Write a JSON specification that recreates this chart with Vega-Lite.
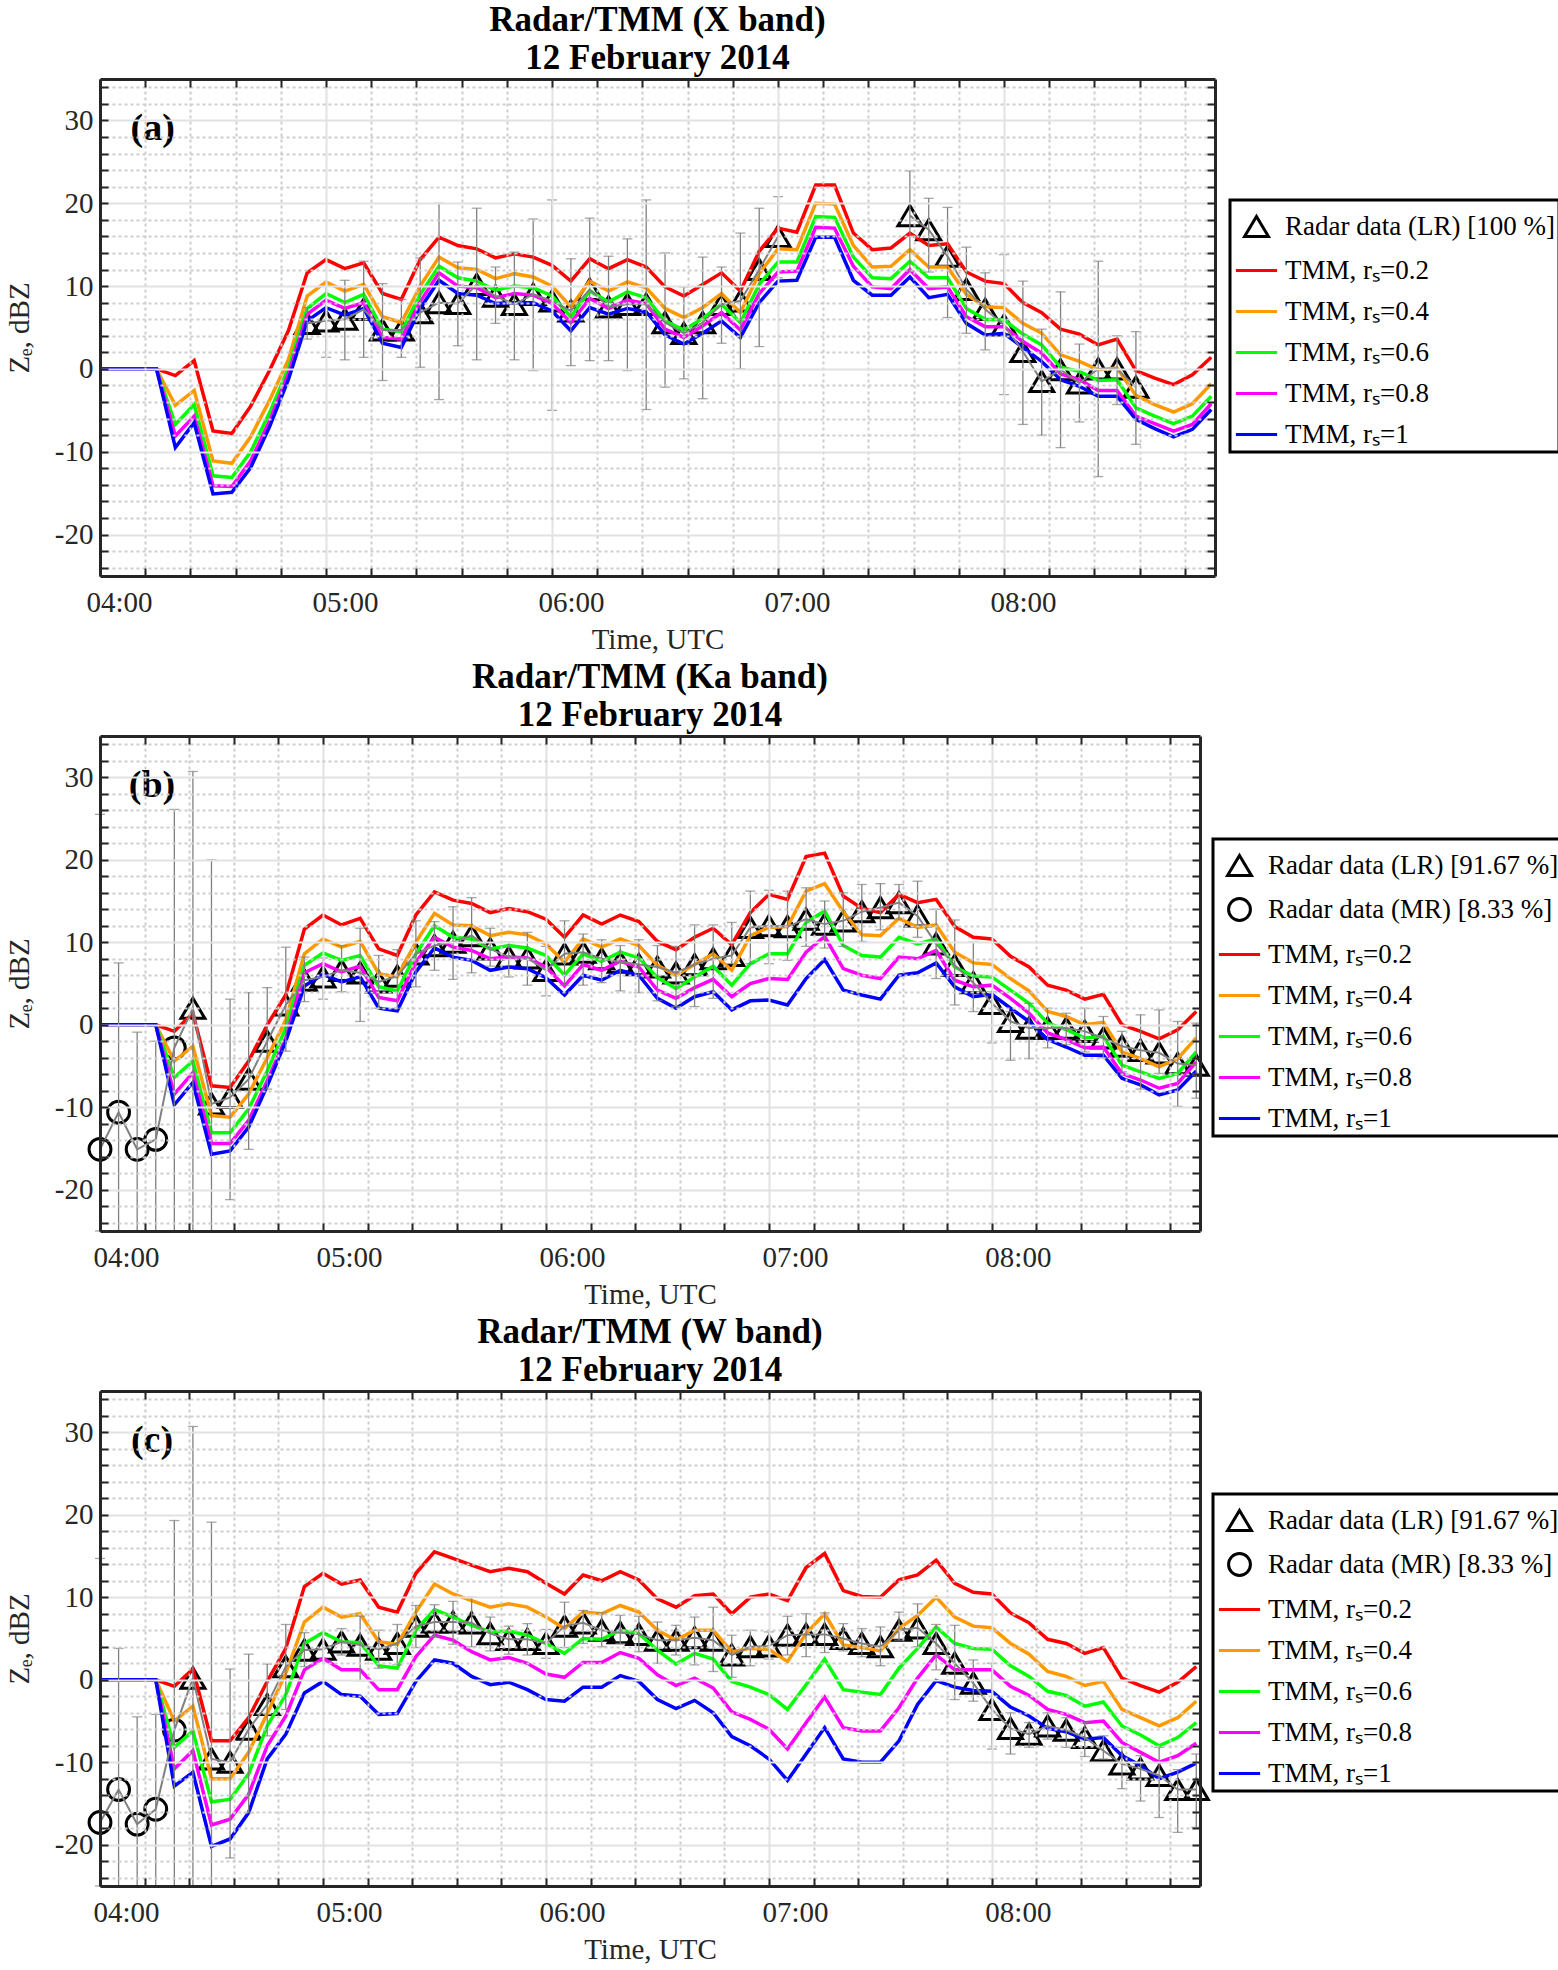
{
  "$schema": "https://vega.github.io/schema/vega-lite/v6.json",
  "background": "white",
  "padding": {"left": 5, "top": 3, "right": 0, "bottom": 0},
  "spacing": 6,
  "config": {
    "font": "Liberation Serif",
    "view": {"stroke": null},
    "axis": {
      "labelFont": "Liberation Serif", "titleFont": "Liberation Serif",
      "labelFontSize": 29, "titleFontSize": 29, "titleFontWeight": "normal",
      "labelColor": "#262626", "titleColor": "#262626",
      "domainColor": "#262626", "domainWidth": 3,
      "tickColor": "#262626", "tickWidth": 2,
      "labelFlush": false, "labelOverlap": false, "labelBound": false
    },
    "legend": {"strokeWidth": 3}
  },
  "resolve": {
    "scale": {"x": "independent", "y": "independent", "color": "independent", "shape": "independent", "strokeWidth": "independent"},
    "legend": {"color": "independent", "shape": "independent"}
  },
  "datasets": {
    "tmm_a": [
      {"t":0,"r02":0,"r04":0,"r06":0,"r08":0,"r1":0},
      {"t":5,"r02":0,"r04":0,"r06":0,"r08":0,"r1":0},
      {"t":10,"r02":0,"r04":0,"r06":0,"r08":0,"r1":0},
      {"t":15,"r02":0,"r04":0,"r06":0,"r08":0,"r1":0},
      {"t":20,"r02":-0.8,"r04":-4.4,"r06":-6.7,"r08":-8.1,"r1":-9.5},
      {"t":25,"r02":1.0,"r04":-2.6,"r06":-4.3,"r08":-5.7,"r1":-6.5},
      {"t":30,"r02":-7.5,"r04":-11.1,"r06":-12.9,"r08":-14.1,"r1":-15.1},
      {"t":35,"r02":-7.8,"r04":-11.4,"r06":-13.1,"r08":-14.2,"r1":-14.9},
      {"t":40,"r02":-4.5,"r04":-8.2,"r06":-10.0,"r08":-11.1,"r1":-11.9},
      {"t":45,"r02":-0.2,"r04":-3.8,"r06":-5.3,"r08":-6.3,"r1":-7.0},
      {"t":50,"r02":4.6,"r04":1.1,"r06":0.1,"r08":-0.6,"r1":-1.3},
      {"t":55,"r02":11.6,"r04":8.8,"r06":7.3,"r08":6.6,"r1":5.8},
      {"t":60,"r02":13.2,"r04":10.5,"r06":9.1,"r08":8.3,"r1":7.4},
      {"t":65,"r02":12.1,"r04":9.4,"r06":8.0,"r08":7.3,"r1":6.5},
      {"t":70,"r02":12.8,"r04":10.2,"r06":9.0,"r08":8.0,"r1":7.3},
      {"t":75,"r02":9.1,"r04":6.3,"r06":4.8,"r08":3.8,"r1":3.1},
      {"t":80,"r02":8.4,"r04":5.6,"r06":4.5,"r08":3.6,"r1":2.6},
      {"t":85,"r02":13.2,"r04":10.0,"r06":9.0,"r08":8.1,"r1":7.3},
      {"t":90,"r02":15.9,"r04":13.5,"r06":12.4,"r08":11.6,"r1":10.7},
      {"t":95,"r02":14.9,"r04":12.2,"r06":11.0,"r08":10.0,"r1":9.1},
      {"t":100,"r02":14.5,"r04":12.0,"r06":10.6,"r08":9.8,"r1":8.9},
      {"t":105,"r02":13.4,"r04":10.9,"r06":9.5,"r08":8.6,"r1":7.9},
      {"t":110,"r02":13.9,"r04":11.5,"r06":10.0,"r08":9.1,"r1":8.0},
      {"t":115,"r02":13.5,"r04":11.1,"r06":9.8,"r08":8.9,"r1":8.0},
      {"t":120,"r02":12.5,"r04":10.0,"r06":8.8,"r08":7.9,"r1":7.0},
      {"t":125,"r02":10.6,"r04":7.5,"r06":6.3,"r08":5.6,"r1":4.6},
      {"t":130,"r02":13.3,"r04":10.6,"r06":9.4,"r08":8.5,"r1":7.4},
      {"t":135,"r02":12.1,"r04":9.4,"r06":8.1,"r08":7.3,"r1":6.6},
      {"t":140,"r02":13.2,"r04":10.5,"r06":9.3,"r08":8.3,"r1":7.3},
      {"t":145,"r02":12.3,"r04":9.8,"r06":8.6,"r08":7.9,"r1":6.9},
      {"t":150,"r02":9.9,"r04":7.3,"r06":5.8,"r08":4.8,"r1":4.1},
      {"t":155,"r02":8.8,"r04":6.2,"r06":4.7,"r08":3.8,"r1":3.0},
      {"t":160,"r02":10.2,"r04":7.4,"r06":6.1,"r08":5.2,"r1":4.3},
      {"t":165,"r02":11.6,"r04":9.1,"r06":7.8,"r08":6.8,"r1":5.8},
      {"t":170,"r02":9.4,"r04":6.8,"r06":5.6,"r08":4.7,"r1":3.8},
      {"t":175,"r02":14.2,"r04":11.5,"r06":10.2,"r08":9.1,"r1":8.0},
      {"t":180,"r02":17.0,"r04":14.5,"r06":12.9,"r08":11.7,"r1":10.6},
      {"t":185,"r02":16.5,"r04":14.4,"r06":12.9,"r08":11.8,"r1":10.7},
      {"t":190,"r02":22.2,"r04":20.0,"r06":18.4,"r08":17.1,"r1":15.9},
      {"t":195,"r02":22.2,"r04":19.9,"r06":18.3,"r08":17.0,"r1":15.9},
      {"t":200,"r02":16.4,"r04":14.9,"r06":13.5,"r08":12.4,"r1":10.7},
      {"t":205,"r02":14.4,"r04":12.3,"r06":11.0,"r08":9.9,"r1":8.9},
      {"t":210,"r02":14.6,"r04":12.4,"r06":10.9,"r08":9.7,"r1":8.9},
      {"t":215,"r02":16.4,"r04":14.4,"r06":13.0,"r08":12.0,"r1":11.1},
      {"t":220,"r02":14.9,"r04":12.3,"r06":11.0,"r08":9.7,"r1":8.6},
      {"t":225,"r02":15.1,"r04":12.3,"r06":11.0,"r08":9.9,"r1":9.0},
      {"t":230,"r02":11.7,"r04":9.0,"r06":7.3,"r08":6.3,"r1":5.5},
      {"t":235,"r02":10.6,"r04":7.5,"r06":6.0,"r08":5.1,"r1":4.1},
      {"t":240,"r02":10.3,"r04":7.4,"r06":5.9,"r08":5.1,"r1":4.3},
      {"t":245,"r02":8.0,"r04":5.5,"r06":4.2,"r08":3.3,"r1":2.6},
      {"t":250,"r02":6.8,"r04":4.3,"r06":2.9,"r08":1.9,"r1":0.9},
      {"t":255,"r02":4.8,"r04":1.7,"r06":0.2,"r08":-0.6,"r1":-1.3},
      {"t":260,"r02":4.2,"r04":0.9,"r06":-0.3,"r08":-1.3,"r1":-2.1},
      {"t":265,"r02":2.9,"r04":-0.1,"r06":-1.4,"r08":-2.6,"r1":-3.3},
      {"t":270,"r02":3.6,"r04":0.1,"r06":-1.3,"r08":-2.6,"r1":-3.3},
      {"t":275,"r02":-0.2,"r04":-3.2,"r06":-4.7,"r08":-5.7,"r1":-6.1},
      {"t":280,"r02":-1.1,"r04":-4.3,"r06":-5.7,"r08":-6.6,"r1":-7.2},
      {"t":285,"r02":-1.9,"r04":-5.2,"r06":-6.6,"r08":-7.5,"r1":-8.2},
      {"t":290,"r02":-0.7,"r04":-4.2,"r06":-5.7,"r08":-6.7,"r1":-7.3},
      {"t":295,"r02":1.4,"r04":-1.8,"r06":-3.3,"r08":-4.2,"r1":-4.9}
    ],
    "radar_a": [
      {"t":55,"s":"LR","z":5.5,"lo":3.6,"hi":7.4,"g":1},
      {"t":60,"s":"LR","z":5.8,"lo":1.4,"hi":10.0,"g":1},
      {"t":65,"s":"LR","z":6.0,"lo":1.1,"hi":10.7,"g":1},
      {"t":70,"s":"LR","z":7.2,"lo":1.4,"hi":13.0,"g":1},
      {"t":75,"s":"LR","z":4.7,"lo":-1.4,"hi":10.3,"g":1},
      {"t":80,"s":"LR","z":4.7,"lo":1.4,"hi":8.4,"g":1},
      {"t":85,"s":"LR","z":6.8,"lo":0.2,"hi":13.4,"g":1},
      {"t":90,"s":"LR","z":8.0,"lo":-3.7,"hi":20.0,"g":1},
      {"t":95,"s":"LR","z":7.9,"lo":2.8,"hi":12.9,"g":1},
      {"t":100,"s":"LR","z":10.2,"lo":1.1,"hi":19.4,"g":1},
      {"t":105,"s":"LR","z":8.8,"lo":5.5,"hi":12.3,"g":1},
      {"t":110,"s":"LR","z":7.8,"lo":1.1,"hi":14.1,"g":1},
      {"t":115,"s":"LR","z":9.0,"lo":-0.2,"hi":18.1,"g":1},
      {"t":120,"s":"LR","z":8.2,"lo":-5.0,"hi":20.4,"g":1},
      {"t":125,"s":"LR","z":7.0,"lo":0.4,"hi":13.3,"g":1},
      {"t":130,"s":"LR","z":9.6,"lo":1.0,"hi":18.2,"g":1},
      {"t":135,"s":"LR","z":7.5,"lo":1.0,"hi":13.6,"g":1},
      {"t":140,"s":"LR","z":7.8,"lo":-0.2,"hi":15.7,"g":1},
      {"t":145,"s":"LR","z":7.8,"lo":-4.9,"hi":20.4,"g":1},
      {"t":150,"s":"LR","z":5.6,"lo":-2.2,"hi":14.0,"g":1},
      {"t":155,"s":"LR","z":4.3,"lo":-1.2,"hi":9.9,"g":1},
      {"t":160,"s":"LR","z":5.6,"lo":-3.6,"hi":13.5,"g":1},
      {"t":165,"s":"LR","z":7.8,"lo":3.1,"hi":12.3,"g":1},
      {"t":170,"s":"LR","z":8.2,"lo":0.0,"hi":16.4,"g":1},
      {"t":175,"s":"LR","z":12.0,"lo":2.7,"hi":19.4,"g":1},
      {"t":180,"s":"LR","z":16.0,"lo":11.0,"hi":20.8,"g":1},
      {"t":215,"s":"LR","z":18.5,"lo":11.8,"hi":23.9,"g":2},
      {"t":220,"s":"LR","z":16.8,"lo":11.7,"hi":20.6,"g":2},
      {"t":225,"s":"LR","z":13.6,"lo":6.2,"hi":19.5,"g":2},
      {"t":230,"s":"LR","z":9.6,"lo":4.3,"hi":14.7,"g":2},
      {"t":235,"s":"LR","z":7.2,"lo":2.3,"hi":11.6,"g":2},
      {"t":240,"s":"LR","z":5.3,"lo":-3.1,"hi":13.8,"g":2},
      {"t":245,"s":"LR","z":2.1,"lo":-6.7,"hi":10.6,"g":2},
      {"t":250,"s":"LR","z":-1.5,"lo":-8.0,"hi":4.8,"g":2},
      {"t":255,"s":"LR","z":-0.1,"lo":-9.5,"hi":9.3,"g":2},
      {"t":260,"s":"LR","z":-1.7,"lo":-6.4,"hi":3.0,"g":2},
      {"t":265,"s":"LR","z":0.0,"lo":-13.0,"hi":13.0,"g":2},
      {"t":270,"s":"LR","z":0.0,"lo":-4.3,"hi":4.0,"g":2},
      {"t":275,"s":"LR","z":-2.2,"lo":-9.1,"hi":4.5,"g":2}
    ],
    "tmm_b": [
      {"t":0,"r02":0,"r04":0,"r06":0,"r08":0,"r1":0},
      {"t":5,"r02":0,"r04":0,"r06":0,"r08":0,"r1":0},
      {"t":10,"r02":0,"r04":0,"r06":0,"r08":0,"r1":0},
      {"t":15,"r02":0,"r04":0,"r06":0,"r08":0,"r1":0},
      {"t":20,"r02":-0.8,"r04":-4.4,"r06":-6.4,"r08":-8.4,"r1":-9.7},
      {"t":25,"r02":1.4,"r04":-2.6,"r06":-4.4,"r08":-5.8,"r1":-7.0},
      {"t":30,"r02":-7.4,"r04":-11.0,"r06":-13.1,"r08":-14.4,"r1":-15.7},
      {"t":35,"r02":-7.6,"r04":-11.2,"r06":-13.1,"r08":-14.4,"r1":-15.3},
      {"t":40,"r02":-4.4,"r04":-8.4,"r06":-10.2,"r08":-11.6,"r1":-12.4},
      {"t":45,"r02":0.0,"r04":-4.0,"r06":-5.6,"r08":-6.8,"r1":-7.4},
      {"t":50,"r02":3.6,"r04":0.6,"r06":-0.4,"r08":-1.6,"r1":-2.0},
      {"t":55,"r02":11.6,"r04":8.6,"r06":7.2,"r08":6.3,"r1":4.7},
      {"t":60,"r02":13.3,"r04":10.4,"r06":8.7,"r08":7.4,"r1":6.1},
      {"t":65,"r02":12.1,"r04":9.4,"r06":7.8,"r08":6.4,"r1":5.2},
      {"t":70,"r02":12.9,"r04":10.1,"r06":8.4,"r08":7.1,"r1":5.8},
      {"t":75,"r02":9.2,"r04":6.2,"r06":4.6,"r08":3.3,"r1":2.0},
      {"t":80,"r02":8.4,"r04":5.8,"r06":4.1,"r08":2.9,"r1":1.7},
      {"t":85,"r02":13.3,"r04":10.0,"r06":8.6,"r08":7.6,"r1":6.4},
      {"t":90,"r02":16.1,"r04":13.5,"r06":12.0,"r08":10.6,"r1":9.3},
      {"t":95,"r02":15.1,"r04":12.1,"r06":10.6,"r08":9.4,"r1":8.2},
      {"t":100,"r02":14.7,"r04":12.0,"r06":10.4,"r08":9.0,"r1":7.8},
      {"t":105,"r02":13.6,"r04":10.8,"r06":9.2,"r08":8.0,"r1":6.6},
      {"t":110,"r02":14.1,"r04":11.2,"r06":9.6,"r08":8.2,"r1":7.0},
      {"t":115,"r02":13.7,"r04":10.9,"r06":9.3,"r08":8.1,"r1":6.8},
      {"t":120,"r02":12.8,"r04":9.8,"r06":8.4,"r08":7.0,"r1":5.7},
      {"t":125,"r02":10.6,"r04":7.6,"r06":6.0,"r08":4.7,"r1":3.6},
      {"t":130,"r02":13.3,"r04":10.4,"r06":8.6,"r08":7.3,"r1":6.0},
      {"t":135,"r02":12.2,"r04":9.4,"r06":7.7,"r08":6.6,"r1":5.4},
      {"t":140,"r02":13.3,"r04":10.4,"r06":8.8,"r08":7.7,"r1":6.6},
      {"t":145,"r02":12.5,"r04":9.6,"r06":8.1,"r08":7.0,"r1":6.0},
      {"t":150,"r02":10.1,"r04":7.2,"r06":5.7,"r08":4.2,"r1":3.2},
      {"t":155,"r02":9.1,"r04":6.0,"r06":4.4,"r08":3.2,"r1":2.0},
      {"t":160,"r02":10.6,"r04":7.3,"r06":5.8,"r08":4.5,"r1":3.4},
      {"t":165,"r02":11.7,"r04":8.6,"r06":7.1,"r08":5.5,"r1":4.0},
      {"t":170,"r02":9.7,"r04":6.6,"r06":4.8,"r08":3.4,"r1":1.8},
      {"t":175,"r02":13.6,"r04":10.8,"r06":7.4,"r08":5.0,"r1":2.9},
      {"t":180,"r02":15.8,"r04":11.8,"r06":8.6,"r08":5.6,"r1":3.0},
      {"t":185,"r02":15.2,"r04":11.9,"r06":8.6,"r08":5.5,"r1":2.4},
      {"t":190,"r02":20.4,"r04":16.2,"r06":12.4,"r08":8.8,"r1":5.6},
      {"t":195,"r02":20.8,"r04":17.1,"r06":13.8,"r08":10.7,"r1":7.9},
      {"t":200,"r02":15.6,"r04":13.7,"r06":9.6,"r08":6.8,"r1":4.2},
      {"t":205,"r02":14.1,"r04":10.9,"r06":8.4,"r08":6.0,"r1":3.6},
      {"t":210,"r02":13.6,"r04":10.8,"r06":8.2,"r08":5.6,"r1":3.1},
      {"t":215,"r02":15.8,"r04":12.9,"r06":10.6,"r08":8.2,"r1":6.0},
      {"t":220,"r02":14.8,"r04":11.8,"r06":9.8,"r08":8.0,"r1":6.3},
      {"t":225,"r02":15.2,"r04":12.1,"r06":10.4,"r08":9.0,"r1":7.5},
      {"t":230,"r02":11.9,"r04":8.8,"r06":7.0,"r08":5.4,"r1":4.6},
      {"t":235,"r02":10.6,"r04":7.5,"r06":5.9,"r08":4.6,"r1":3.4},
      {"t":240,"r02":10.4,"r04":7.3,"r06":5.8,"r08":4.8,"r1":3.7},
      {"t":245,"r02":8.3,"r04":5.6,"r06":4.2,"r08":3.2,"r1":2.0},
      {"t":250,"r02":7.0,"r04":4.1,"r06":2.6,"r08":1.4,"r1":0.4},
      {"t":255,"r02":4.8,"r04":1.6,"r06":0.2,"r08":-1.0,"r1":-1.8},
      {"t":260,"r02":4.2,"r04":1.0,"r06":-0.6,"r08":-1.8,"r1":-2.7},
      {"t":265,"r02":3.1,"r04":0.0,"r06":-1.6,"r08":-2.8,"r1":-3.7},
      {"t":270,"r02":3.7,"r04":0.3,"r06":-1.4,"r08":-2.7,"r1":-3.7},
      {"t":275,"r02":0.0,"r04":-3.3,"r06":-4.9,"r08":-5.9,"r1":-6.5},
      {"t":280,"r02":-0.8,"r04":-4.1,"r06":-5.7,"r08":-6.7,"r1":-7.3},
      {"t":285,"r02":-1.7,"r04":-5.1,"r06":-6.5,"r08":-7.7,"r1":-8.5},
      {"t":290,"r02":-0.6,"r04":-4.1,"r06":-5.9,"r08":-7.1,"r1":-7.9},
      {"t":295,"r02":1.6,"r04":-1.6,"r06":-3.3,"r08":-4.5,"r1":-5.6}
    ],
    "radar_b": [
      {"t":0,"s":"MR","z":-15.1,"lo":-25,"hi":25.5,"g":1},
      {"t":5,"s":"MR","z":-10.6,"lo":-25,"hi":7.5,"g":1},
      {"t":10,"s":"MR","z":-15.1,"lo":-25,"hi":-0.9,"g":1},
      {"t":15,"s":"MR","z":-13.9,"lo":-25,"hi":-2.0,"g":1},
      {"t":20,"s":"MR","z":-2.8,"lo":-25,"hi":26.1,"g":1},
      {"t":25,"s":"LR","z":2.0,"lo":-25,"hi":30.7,"g":1},
      {"t":30,"s":"LR","z":-9.6,"lo":-25,"hi":20.0,"g":1},
      {"t":35,"s":"LR","z":-8.8,"lo":-21.2,"hi":3.1,"g":1},
      {"t":40,"s":"LR","z":-6.6,"lo":-15.1,"hi":3.9,"g":1},
      {"t":45,"s":"LR","z":-2.0,"lo":-7.8,"hi":4.5,"g":1},
      {"t":50,"s":"LR","z":2.4,"lo":-3.2,"hi":9.4,"g":1},
      {"t":55,"s":"LR","z":5.4,"lo":2.8,"hi":8.2,"g":1},
      {"t":60,"s":"LR","z":5.8,"lo":3.1,"hi":8.1,"g":1},
      {"t":65,"s":"LR","z":6.6,"lo":4.0,"hi":9.6,"g":1},
      {"t":70,"s":"LR","z":6.3,"lo":0.4,"hi":11.7,"g":1},
      {"t":75,"s":"LR","z":5.2,"lo":2.0,"hi":8.4,"g":1},
      {"t":80,"s":"LR","z":5.9,"lo":2.0,"hi":9.1,"g":1},
      {"t":85,"s":"LR","z":8.6,"lo":4.6,"hi":12.6,"g":1},
      {"t":90,"s":"LR","z":9.6,"lo":6.6,"hi":12.5,"g":1},
      {"t":95,"s":"LR","z":10.0,"lo":5.5,"hi":14.3,"g":1},
      {"t":100,"s":"LR","z":10.8,"lo":6.3,"hi":15.4,"g":1},
      {"t":105,"s":"LR","z":9.2,"lo":7.1,"hi":11.7,"g":1},
      {"t":110,"s":"LR","z":8.2,"lo":5.8,"hi":10.0,"g":1},
      {"t":115,"s":"LR","z":8.1,"lo":4.8,"hi":11.2,"g":1},
      {"t":120,"s":"LR","z":6.6,"lo":3.5,"hi":9.5,"g":1},
      {"t":125,"s":"LR","z":8.6,"lo":4.8,"hi":12.6,"g":1},
      {"t":130,"s":"LR","z":8.8,"lo":4.8,"hi":11.0,"g":1},
      {"t":135,"s":"LR","z":8.0,"lo":5.1,"hi":10.3,"g":1},
      {"t":140,"s":"LR","z":7.6,"lo":4.1,"hi":9.6,"g":1},
      {"t":145,"s":"LR","z":7.3,"lo":3.9,"hi":10.3,"g":1},
      {"t":150,"s":"LR","z":7.0,"lo":2.9,"hi":9.6,"g":1},
      {"t":155,"s":"LR","z":6.3,"lo":2.2,"hi":9.5,"g":1},
      {"t":160,"s":"LR","z":7.3,"lo":2.2,"hi":12.1,"g":1},
      {"t":165,"s":"LR","z":8.0,"lo":3.2,"hi":12.1,"g":1},
      {"t":170,"s":"LR","z":8.4,"lo":7.4,"hi":12.4,"g":1},
      {"t":175,"s":"LR","z":11.8,"lo":7.4,"hi":16.2,"g":1},
      {"t":180,"s":"LR","z":12.0,"lo":7.4,"hi":16.3,"g":1},
      {"t":185,"s":"LR","z":11.9,"lo":7.8,"hi":16.2,"g":1},
      {"t":190,"s":"LR","z":12.8,"lo":9.5,"hi":16.6,"g":1},
      {"t":195,"s":"LR","z":12.2,"lo":9.3,"hi":15.0,"g":1},
      {"t":200,"s":"LR","z":12.6,"lo":9.5,"hi":16.0,"g":1},
      {"t":205,"s":"LR","z":13.7,"lo":10.1,"hi":17.0,"g":1},
      {"t":210,"s":"LR","z":14.2,"lo":11.5,"hi":17.1,"g":1},
      {"t":215,"s":"LR","z":14.8,"lo":12.8,"hi":17.0,"g":1},
      {"t":220,"s":"LR","z":13.2,"lo":10.6,"hi":17.4,"g":1},
      {"t":225,"s":"LR","z":9.8,"lo":5.6,"hi":14.0,"g":1},
      {"t":230,"s":"LR","z":7.2,"lo":2.4,"hi":12.7,"g":1},
      {"t":235,"s":"LR","z":5.1,"lo":1.6,"hi":10.0,"g":1},
      {"t":240,"s":"LR","z":2.6,"lo":-2.2,"hi":4.0,"g":1},
      {"t":245,"s":"LR","z":0.4,"lo":-4.3,"hi":1.6,"g":1},
      {"t":250,"s":"LR","z":-0.4,"lo":-4.1,"hi":2.6,"g":1},
      {"t":255,"s":"LR","z":-0.4,"lo":-2.8,"hi":2.0,"g":1},
      {"t":260,"s":"LR","z":-0.4,"lo":-2.4,"hi":1.4,"g":1},
      {"t":265,"s":"LR","z":-0.8,"lo":-3.3,"hi":2.0,"g":1},
      {"t":270,"s":"LR","z":-1.6,"lo":-4.0,"hi":1.0,"g":1},
      {"t":275,"s":"LR","z":-2.6,"lo":-5.7,"hi":-0.8,"g":1},
      {"t":280,"s":"LR","z":-3.1,"lo":-7.8,"hi":1.2,"g":1},
      {"t":285,"s":"LR","z":-3.4,"lo":-5.9,"hi":1.8,"g":1},
      {"t":290,"s":"LR","z":-4.7,"lo":-9.9,"hi":0.4,"g":1},
      {"t":295,"s":"LR","z":-4.9,"lo":-8.9,"hi":0.2,"g":1}
    ],
    "tmm_c": [
      {"t":0,"r02":0,"r04":0,"r06":0,"r08":0,"r1":0},
      {"t":5,"r02":0,"r04":0,"r06":0,"r08":0,"r1":0},
      {"t":10,"r02":0,"r04":0,"r06":0,"r08":0,"r1":0},
      {"t":15,"r02":0,"r04":0,"r06":0,"r08":0,"r1":0},
      {"t":20,"r02":-0.8,"r04":-5.0,"r06":-8.2,"r08":-10.8,"r1":-12.9},
      {"t":25,"r02":1.3,"r04":-3.2,"r06":-6.2,"r08":-8.6,"r1":-11.2},
      {"t":30,"r02":-7.4,"r04":-12.0,"r06":-14.8,"r08":-17.6,"r1":-20.2},
      {"t":35,"r02":-7.4,"r04":-12.0,"r06":-14.5,"r08":-16.9,"r1":-19.3},
      {"t":40,"r02":-4.6,"r04":-8.8,"r06":-11.4,"r08":-13.9,"r1":-16.1},
      {"t":45,"r02":-0.2,"r04":-4.1,"r06":-5.6,"r08":-8.0,"r1":-9.6},
      {"t":50,"r02":3.8,"r04":0.8,"r06":-1.8,"r08":-4.4,"r1":-6.6},
      {"t":55,"r02":11.3,"r04":7.0,"r06":4.4,"r08":1.2,"r1":-1.6},
      {"t":60,"r02":12.9,"r04":8.8,"r06":5.7,"r08":2.6,"r1":-0.2},
      {"t":65,"r02":11.6,"r04":7.6,"r06":4.6,"r08":1.2,"r1":-1.8},
      {"t":70,"r02":12.1,"r04":8.0,"r06":4.5,"r08":1.2,"r1":-2.0},
      {"t":75,"r02":8.8,"r04":4.6,"r06":1.7,"r08":-1.2,"r1":-4.2},
      {"t":80,"r02":8.2,"r04":4.3,"r06":1.4,"r08":-1.2,"r1":-4.1},
      {"t":85,"r02":12.9,"r04":8.2,"r06":6.0,"r08":2.8,"r1":-0.2},
      {"t":90,"r02":15.5,"r04":11.6,"r06":8.5,"r08":5.4,"r1":2.4},
      {"t":95,"r02":14.7,"r04":10.4,"r06":7.6,"r08":4.8,"r1":2.0},
      {"t":100,"r02":13.9,"r04":9.6,"r06":6.6,"r08":3.4,"r1":0.4},
      {"t":105,"r02":13.1,"r04":8.8,"r06":5.8,"r08":2.4,"r1":-0.6},
      {"t":110,"r02":13.5,"r04":9.2,"r06":5.9,"r08":2.7,"r1":-0.3},
      {"t":115,"r02":13.1,"r04":8.8,"r06":5.4,"r08":2.0,"r1":-1.2},
      {"t":120,"r02":11.7,"r04":7.6,"r06":4.4,"r08":0.7,"r1":-2.4},
      {"t":125,"r02":10.4,"r04":6.2,"r06":3.2,"r08":0.3,"r1":-2.6},
      {"t":130,"r02":12.7,"r04":8.2,"r06":5.0,"r08":2.1,"r1":-0.9},
      {"t":135,"r02":12.0,"r04":8.0,"r06":4.9,"r08":2.1,"r1":-0.9},
      {"t":140,"r02":13.1,"r04":9.0,"r06":6.0,"r08":3.3,"r1":0.5},
      {"t":145,"r02":12.1,"r04":8.2,"r06":5.6,"r08":2.6,"r1":-0.2},
      {"t":150,"r02":9.8,"r04":6.0,"r06":3.6,"r08":0.6,"r1":-2.4},
      {"t":155,"r02":8.8,"r04":4.8,"r06":1.9,"r08":-0.7,"r1":-3.5},
      {"t":160,"r02":10.2,"r04":6.0,"r06":3.2,"r08":0.2,"r1":-2.5},
      {"t":165,"r02":10.4,"r04":6.0,"r06":2.5,"r08":-1.0,"r1":-4.0},
      {"t":170,"r02":8.0,"r04":3.4,"r06":-0.2,"r08":-3.9,"r1":-6.9},
      {"t":175,"r02":10.0,"r04":3.8,"r06":-0.9,"r08":-4.8,"r1":-8.0},
      {"t":180,"r02":10.4,"r04":3.7,"r06":-1.8,"r08":-6.0,"r1":-9.6},
      {"t":185,"r02":9.6,"r04":2.2,"r06":-3.6,"r08":-8.4,"r1":-12.2},
      {"t":190,"r02":13.6,"r04":5.6,"r06":-0.6,"r08":-5.2,"r1":-9.0},
      {"t":195,"r02":15.3,"r04":8.0,"r06":2.5,"r08":-2.1,"r1":-5.8},
      {"t":200,"r02":10.8,"r04":4.2,"r06":-1.2,"r08":-5.8,"r1":-9.6},
      {"t":205,"r02":10.1,"r04":3.9,"r06":-1.5,"r08":-6.2,"r1":-10.0},
      {"t":210,"r02":10.0,"r04":3.5,"r06":-1.8,"r08":-6.2,"r1":-10.0},
      {"t":215,"r02":12.1,"r04":6.2,"r06":1.4,"r08":-3.4,"r1":-7.4},
      {"t":220,"r02":12.7,"r04":7.8,"r06":3.8,"r08":0.2,"r1":-3.0},
      {"t":225,"r02":14.5,"r04":10.0,"r06":6.4,"r08":3.0,"r1":-0.1},
      {"t":230,"r02":11.7,"r04":7.6,"r06":4.4,"r08":1.2,"r1":-0.9},
      {"t":235,"r02":10.6,"r04":6.5,"r06":3.8,"r08":1.2,"r1":-1.3},
      {"t":240,"r02":10.4,"r04":6.3,"r06":3.7,"r08":1.2,"r1":-1.4},
      {"t":245,"r02":8.1,"r04":4.4,"r06":1.7,"r08":-0.8,"r1":-3.3},
      {"t":250,"r02":6.9,"r04":3.1,"r06":0.4,"r08":-1.9,"r1":-4.4},
      {"t":255,"r02":4.9,"r04":1.0,"r06":-1.4,"r08":-3.6,"r1":-5.9},
      {"t":260,"r02":4.4,"r04":0.4,"r06":-1.9,"r08":-4.2,"r1":-6.3},
      {"t":265,"r02":3.2,"r04":-0.7,"r06":-3.2,"r08":-5.2,"r1":-7.2},
      {"t":270,"r02":3.9,"r04":-0.2,"r06":-2.7,"r08":-5.0,"r1":-7.0},
      {"t":275,"r02":0.2,"r04":-3.6,"r06":-5.6,"r08":-7.6,"r1":-9.2},
      {"t":280,"r02":-0.7,"r04":-4.6,"r06":-6.7,"r08":-8.8,"r1":-10.4},
      {"t":285,"r02":-1.5,"r04":-5.6,"r06":-8.0,"r08":-10.0,"r1":-12.0},
      {"t":290,"r02":-0.3,"r04":-4.6,"r06":-7.0,"r08":-9.2,"r1":-11.2},
      {"t":295,"r02":1.6,"r04":-2.6,"r06":-5.2,"r08":-7.7,"r1":-10.1}
    ],
    "radar_c": [
      {"t":0,"s":"MR","z":-17.3,"lo":-25,"hi":14.7,"g":1},
      {"t":5,"s":"MR","z":-13.3,"lo":-25,"hi":3.8,"g":1},
      {"t":10,"s":"MR","z":-17.5,"lo":-25,"hi":-4.5,"g":1},
      {"t":15,"s":"MR","z":-15.7,"lo":-25,"hi":-4.2,"g":1},
      {"t":20,"s":"MR","z":-6.1,"lo":-25,"hi":19.3,"g":1},
      {"t":25,"s":"LR","z":0.2,"lo":-25,"hi":30.7,"g":1},
      {"t":30,"s":"LR","z":-9.6,"lo":-25,"hi":19.1,"g":1},
      {"t":35,"s":"LR","z":-10.0,"lo":-21.6,"hi":1.3,"g":1},
      {"t":40,"s":"LR","z":-6.0,"lo":-16.1,"hi":3.1,"g":1},
      {"t":45,"s":"LR","z":-3.0,"lo":-6.8,"hi":1.9,"g":1},
      {"t":50,"s":"LR","z":1.6,"lo":-3.6,"hi":6.7,"g":1},
      {"t":55,"s":"LR","z":3.6,"lo":1.6,"hi":5.7,"g":1},
      {"t":60,"s":"LR","z":3.7,"lo":2.2,"hi":5.6,"g":1},
      {"t":65,"s":"LR","z":4.6,"lo":3.0,"hi":6.2,"g":1},
      {"t":70,"s":"LR","z":4.2,"lo":-0.1,"hi":7.7,"g":1},
      {"t":75,"s":"LR","z":3.7,"lo":1.4,"hi":6.0,"g":1},
      {"t":80,"s":"LR","z":4.4,"lo":1.8,"hi":6.7,"g":1},
      {"t":85,"s":"LR","z":6.5,"lo":3.9,"hi":9.0,"g":1},
      {"t":90,"s":"LR","z":7.0,"lo":5.2,"hi":9.1,"g":1},
      {"t":95,"s":"LR","z":7.0,"lo":4.3,"hi":9.5,"g":1},
      {"t":100,"s":"LR","z":6.9,"lo":4.0,"hi":10.0,"g":1},
      {"t":105,"s":"LR","z":5.6,"lo":3.5,"hi":7.6,"g":1},
      {"t":110,"s":"LR","z":4.9,"lo":3.1,"hi":6.5,"g":1},
      {"t":115,"s":"LR","z":4.9,"lo":3.0,"hi":6.8,"g":1},
      {"t":120,"s":"LR","z":4.4,"lo":2.6,"hi":6.1,"g":1},
      {"t":125,"s":"LR","z":6.5,"lo":3.9,"hi":9.4,"g":1},
      {"t":130,"s":"LR","z":6.9,"lo":4.4,"hi":8.4,"g":1},
      {"t":135,"s":"LR","z":6.0,"lo":4.0,"hi":8.1,"g":1},
      {"t":140,"s":"LR","z":5.7,"lo":4.4,"hi":7.8,"g":1},
      {"t":145,"s":"LR","z":5.5,"lo":3.4,"hi":7.7,"g":1},
      {"t":150,"s":"LR","z":4.8,"lo":2.0,"hi":7.0,"g":1},
      {"t":155,"s":"LR","z":4.8,"lo":3.0,"hi":6.6,"g":1},
      {"t":160,"s":"LR","z":5.1,"lo":1.8,"hi":7.6,"g":1},
      {"t":165,"s":"LR","z":4.8,"lo":1.0,"hi":8.8,"g":1},
      {"t":170,"s":"LR","z":3.0,"lo":0.3,"hi":5.4,"g":1},
      {"t":175,"s":"LR","z":4.0,"lo":1.7,"hi":6.0,"g":1},
      {"t":180,"s":"LR","z":4.1,"lo":2.5,"hi":5.8,"g":1},
      {"t":185,"s":"LR","z":5.4,"lo":3.0,"hi":7.7,"g":1},
      {"t":190,"s":"LR","z":5.5,"lo":2.8,"hi":8.0,"g":1},
      {"t":195,"s":"LR","z":5.5,"lo":3.3,"hi":8.1,"g":1},
      {"t":200,"s":"LR","z":5.0,"lo":3.5,"hi":6.8,"g":1},
      {"t":205,"s":"LR","z":4.4,"lo":2.8,"hi":6.2,"g":1},
      {"t":210,"s":"LR","z":4.0,"lo":1.7,"hi":6.4,"g":1},
      {"t":215,"s":"LR","z":6.0,"lo":4.8,"hi":8.2,"g":1},
      {"t":220,"s":"LR","z":6.3,"lo":4.0,"hi":9.2,"g":1},
      {"t":225,"s":"LR","z":4.4,"lo":1.2,"hi":6.7,"g":1},
      {"t":230,"s":"LR","z":2.0,"lo":-2.4,"hi":6.6,"g":1},
      {"t":235,"s":"LR","z":-0.4,"lo":-2.6,"hi":2.4,"g":1},
      {"t":240,"s":"LR","z":-3.6,"lo":-8.4,"hi":2.0,"g":1},
      {"t":245,"s":"LR","z":-5.9,"lo":-9.0,"hi":-4.0,"g":1},
      {"t":250,"s":"LR","z":-6.6,"lo":-8.2,"hi":-5.2,"g":1},
      {"t":255,"s":"LR","z":-5.6,"lo":-7.2,"hi":-4.0,"g":1},
      {"t":260,"s":"LR","z":-6.1,"lo":-8.2,"hi":-4.6,"g":1},
      {"t":265,"s":"LR","z":-7.0,"lo":-9.3,"hi":-5.2,"g":1},
      {"t":270,"s":"LR","z":-8.6,"lo":-9.6,"hi":-6.8,"g":1},
      {"t":275,"s":"LR","z":-10.2,"lo":-13.2,"hi":-8.2,"g":1},
      {"t":280,"s":"LR","z":-10.8,"lo":-14.7,"hi":-9.2,"g":1},
      {"t":285,"s":"LR","z":-11.6,"lo":-16.7,"hi":-8.2,"g":1},
      {"t":290,"s":"LR","z":-13.3,"lo":-18.5,"hi":-10.9,"g":1},
      {"t":295,"s":"LR","z":-13.3,"lo":-17.9,"hi":-9.0,"g":1}
    ]
  },
  "vconcat": [
    {
      "width": 1115, "height": 497,
      "title": {"text": ["Radar/TMM (X band)", "12 February 2014"], "font": "Liberation Serif", "fontSize": 35, "fontWeight": "bold", "lineHeight": 38, "color": "black", "anchor": "middle", "frame": "group", "offset": -3},
      "resolve": {"axis": {"x": "independent", "y": "independent"}},
      "layer": [
        {
          "data": {"name": "radar_a"},
          "mark": {"type": "point", "filled": false, "strokeWidth": 3, "opacity": 1, "size": 1700},
          "encoding": {
            "x": {"field": "t", "type": "quantitative", "scale": {"domain": [0, 296], "nice": false, "zero": false},
              "axis": {"orient": "top", "values": [0,12,24,36,48,60,72,84,96,108,120,132,144,156,168,180,192,204,216,228,240,252,264,276,288], "labels": false, "grid": false, "tickSize": -8, "domain": true, "zindex": 1, "title": null}},
            "y": {"field": "z", "type": "quantitative", "scale": {"domain": [-25, 35], "nice": false, "zero": false},
              "axis": {"orient": "right", "values": [-24,-22,-20,-18,-16,-14,-12,-10,-8,-6,-4,-2,0,2,4,6,8,10,12,14,16,18,20,22,24,26,28,30,32,34], "labels": false, "grid": false, "tickSize": -8, "domain": true, "zindex": 1, "title": null}},
            "color": {"field": "s", "type": "nominal",
              "scale": {"domain": ["LR", "r02", "r04", "r06", "r08", "r1"], "range": ["#000000", "#ff0000", "#ff9900", "#00ff00", "#ff00ff", "#0000ff"]},
              "legend": {"orient": "none", "legendX": 1130, "legendY": 121, "title": null,
                "labelExpr": "datum.value === 'LR' ? 'Radar data (LR) [100 %]' : datum.value === 'r02' ? 'TMM, rₛ=0.2' : datum.value === 'r04' ? 'TMM, rₛ=0.4' : datum.value === 'r06' ? 'TMM, rₛ=0.6' : datum.value === 'r08' ? 'TMM, rₛ=0.8' : 'TMM, rₛ=1'",
                "symbolSize": 1700, "symbolStrokeWidth": 3, "symbolOpacity": 1, "rowPadding": 5, "padding": 4, "labelOffset": 6, "labelFont": "Liberation Serif", "labelFontSize": 27, "labelColor": "black", "labelLimit": 600,
                "strokeColor": "#000000", "fillColor": "white"}},
            "shape": {"field": "s", "type": "nominal",
              "scale": {"domain": ["LR", "r02", "r04", "r06", "r08", "r1"], "range": ["M0,-0.49L0.58,0.49L-0.58,0.49Z", "M-1,0L1,0", "M-1,0L1,0", "M-1,0L1,0", "M-1,0L1,0", "M-1,0L1,0"]},
              "legend": {"orient": "none", "legendX": 1130, "legendY": 121, "title": null,
                "labelExpr": "datum.value === 'LR' ? 'Radar data (LR) [100 %]' : datum.value === 'r02' ? 'TMM, rₛ=0.2' : datum.value === 'r04' ? 'TMM, rₛ=0.4' : datum.value === 'r06' ? 'TMM, rₛ=0.6' : datum.value === 'r08' ? 'TMM, rₛ=0.8' : 'TMM, rₛ=1'",
                "symbolSize": 1700, "symbolStrokeWidth": 3, "symbolOpacity": 1, "rowPadding": 5, "padding": 4, "labelOffset": 6, "labelFont": "Liberation Serif", "labelFontSize": 27, "labelColor": "black", "labelLimit": 600,
                "strokeColor": "#000000", "fillColor": "white"}}
          }
        },
        {
          "data": {"name": "tmm_a"},
          "transform": [{"fold": ["r02", "r04", "r06", "r08", "r1"], "as": ["s", "z"]}],
          "mark": {"type": "line"},
          "encoding": {
            "x": {"field": "t", "type": "quantitative",
              "axis": {"orient": "bottom", "values": [0,12,24,36,48,60,72,84,96,108,120,132,144,156,168,180,192,204,216,228,240,252,264,276,288],
                "labelExpr": "datum.value % 60 === 0 ? '0' + (4 + datum.value / 60) + ':00' : ''",
                "labelOffset": 19, "labelPadding": 20, "tickSize": -8, "domain": true, "zindex": 1,
                "grid": true, "gridWidth": 2,
                "gridColor": {"condition": {"test": "datum.value % 60 === 0", "value": "#e2e2e2"}, "value": "#cdcdcd"},
                "gridDash": {"condition": {"test": "datum.value % 60 === 0", "value": []}, "value": [3, 3]},
                "gridOpacity": {"condition": {"test": "datum.value === 0", "value": 0}, "value": 1},
                "title": "Time, UTC", "titlePadding": 8}},
            "y": {"field": "z", "type": "quantitative",
              "axis": {"orient": "left", "values": [-24,-22,-20,-18,-16,-14,-12,-10,-8,-6,-4,-2,0,2,4,6,8,10,12,14,16,18,20,22,24,26,28,30,32,34],
                "labelExpr": "datum.value % 10 === 0 ? '' + datum.value : ''",
                "labelPadding": 15, "tickSize": -8, "domain": true, "zindex": 1,
                "grid": true, "gridWidth": 2,
                "gridColor": {"condition": {"test": "datum.value % 10 === 0", "value": "#e2e2e2"}, "value": "#cdcdcd"},
                "gridDash": {"condition": {"test": "datum.value % 10 === 0", "value": []}, "value": [3, 3]},
                "title": "Zₑ, dBZ", "titlePadding": 20}},
            "color": {"field": "s", "type": "nominal"},
            "strokeWidth": {"field": "s", "type": "nominal", "scale": {"domain": ["r02", "r04", "r06", "r08", "r1"], "range": [3.5, 3.5, 4.5, 3.5, 3.5]}, "legend": null}
          }
        },
        {
          "data": {"name": "radar_a"},
          "mark": {"type": "errorbar", "ticks": {"size": 10, "thickness": 1.3, "color": "#808080"}, "rule": {"color": "#808080", "strokeWidth": 1.3}},
          "encoding": {
            "x": {"field": "t", "type": "quantitative", "axis": null},
            "y": {"field": "lo", "type": "quantitative", "axis": null},
            "y2": {"field": "hi"}
          }
        },
        {
          "data": {"name": "radar_a"},
          "mark": {"type": "line", "color": "#808080", "strokeWidth": 2},
          "encoding": {
            "x": {"field": "t", "type": "quantitative", "axis": null},
            "y": {"field": "z", "type": "quantitative", "axis": null},
            "detail": {"field": "g", "type": "nominal"}
          }
        },
        {
          "data": {"values": [{"t": 14, "z": 29, "lab": "(a)"}]},
          "mark": {"type": "text", "font": "Liberation Serif", "fontSize": 38, "fontWeight": "bold", "color": "black"},
          "encoding": {
            "x": {"field": "t", "type": "quantitative", "axis": null},
            "y": {"field": "z", "type": "quantitative", "axis": null},
            "text": {"field": "lab"}
          }
        }
      ]
    },
    {
      "width": 1100, "height": 495,
      "title": {"text": ["Radar/TMM (Ka band)", "12 February 2014"], "font": "Liberation Serif", "fontSize": 35, "fontWeight": "bold", "lineHeight": 38, "color": "black", "anchor": "middle", "frame": "group", "offset": -3},
      "resolve": {"axis": {"x": "independent", "y": "independent"}},
      "layer": [
        {
          "data": {"name": "radar_b"},
          "mark": {"type": "point", "filled": false, "strokeWidth": 3, "opacity": 1, "size": 1700},
          "encoding": {
            "x": {"field": "t", "type": "quantitative", "scale": {"domain": [0, 296], "nice": false, "zero": false},
              "axis": {"orient": "top", "values": [0,12,24,36,48,60,72,84,96,108,120,132,144,156,168,180,192,204,216,228,240,252,264,276,288], "labels": false, "grid": false, "tickSize": -8, "domain": true, "zindex": 1, "title": null}},
            "y": {"field": "z", "type": "quantitative", "scale": {"domain": [-25, 35], "nice": false, "zero": false},
              "axis": {"orient": "right", "values": [-24,-22,-20,-18,-16,-14,-12,-10,-8,-6,-4,-2,0,2,4,6,8,10,12,14,16,18,20,22,24,26,28,30,32,34], "labels": false, "grid": false, "tickSize": -8, "domain": true, "zindex": 1, "title": null}},
            "color": {"field": "s", "type": "nominal",
              "scale": {"domain": ["LR", "MR", "r02", "r04", "r06", "r08", "r1"], "range": ["#000000", "#000000", "#ff0000", "#ff9900", "#00ff00", "#ff00ff", "#0000ff"]},
              "legend": {"orient": "none", "legendX": 1113, "legendY": 103, "title": null,
                "labelExpr": "datum.value === 'LR' ? 'Radar data (LR) [91.67 %]' : datum.value === 'MR' ? 'Radar data (MR) [8.33 %]' : datum.value === 'r02' ? 'TMM, rₛ=0.2' : datum.value === 'r04' ? 'TMM, rₛ=0.4' : datum.value === 'r06' ? 'TMM, rₛ=0.6' : datum.value === 'r08' ? 'TMM, rₛ=0.8' : 'TMM, rₛ=1'",
                "symbolSize": 1700, "symbolStrokeWidth": 3, "symbolOpacity": 1, "rowPadding": 5, "padding": 4, "labelOffset": 6, "labelFont": "Liberation Serif", "labelFontSize": 27, "labelColor": "black", "labelLimit": 600,
                "strokeColor": "#000000", "fillColor": "white"}},
            "shape": {"field": "s", "type": "nominal",
              "scale": {"domain": ["LR", "MR", "r02", "r04", "r06", "r08", "r1"], "range": ["M0,-0.49L0.58,0.49L-0.58,0.49Z", "M0.53,0A0.53,0.53,0,1,1,-0.53,0A0.53,0.53,0,1,1,0.53,0Z", "M-1,0L1,0", "M-1,0L1,0", "M-1,0L1,0", "M-1,0L1,0", "M-1,0L1,0"]},
              "legend": {"orient": "none", "legendX": 1113, "legendY": 103, "title": null,
                "labelExpr": "datum.value === 'LR' ? 'Radar data (LR) [91.67 %]' : datum.value === 'MR' ? 'Radar data (MR) [8.33 %]' : datum.value === 'r02' ? 'TMM, rₛ=0.2' : datum.value === 'r04' ? 'TMM, rₛ=0.4' : datum.value === 'r06' ? 'TMM, rₛ=0.6' : datum.value === 'r08' ? 'TMM, rₛ=0.8' : 'TMM, rₛ=1'",
                "symbolSize": 1700, "symbolStrokeWidth": 3, "symbolOpacity": 1, "rowPadding": 5, "padding": 4, "labelOffset": 6, "labelFont": "Liberation Serif", "labelFontSize": 27, "labelColor": "black", "labelLimit": 600,
                "strokeColor": "#000000", "fillColor": "white"}}
          }
        },
        {
          "data": {"name": "tmm_b"},
          "transform": [{"fold": ["r02", "r04", "r06", "r08", "r1"], "as": ["s", "z"]}],
          "mark": {"type": "line"},
          "encoding": {
            "x": {"field": "t", "type": "quantitative",
              "axis": {"orient": "bottom", "values": [0,12,24,36,48,60,72,84,96,108,120,132,144,156,168,180,192,204,216,228,240,252,264,276,288],
                "labelExpr": "datum.value % 60 === 0 ? '0' + (4 + datum.value / 60) + ':00' : ''",
                "labelOffset": 26, "labelPadding": 20, "tickSize": -8, "domain": true, "zindex": 1,
                "grid": true, "gridWidth": 2,
                "gridColor": {"condition": {"test": "datum.value % 60 === 0", "value": "#e2e2e2"}, "value": "#cdcdcd"},
                "gridDash": {"condition": {"test": "datum.value % 60 === 0", "value": []}, "value": [3, 3]},
                "gridOpacity": {"condition": {"test": "datum.value === 0", "value": 0}, "value": 1},
                "title": "Time, UTC", "titlePadding": 8}},
            "y": {"field": "z", "type": "quantitative",
              "axis": {"orient": "left", "values": [-24,-22,-20,-18,-16,-14,-12,-10,-8,-6,-4,-2,0,2,4,6,8,10,12,14,16,18,20,22,24,26,28,30,32,34],
                "labelExpr": "datum.value % 10 === 0 ? '' + datum.value : ''",
                "labelPadding": 15, "tickSize": -8, "domain": true, "zindex": 1,
                "grid": true, "gridWidth": 2,
                "gridColor": {"condition": {"test": "datum.value % 10 === 0", "value": "#e2e2e2"}, "value": "#cdcdcd"},
                "gridDash": {"condition": {"test": "datum.value % 10 === 0", "value": []}, "value": [3, 3]},
                "title": "Zₑ, dBZ", "titlePadding": 20}},
            "color": {"field": "s", "type": "nominal"},
            "strokeWidth": {"field": "s", "type": "nominal", "scale": {"domain": ["r02", "r04", "r06", "r08", "r1"], "range": [3.5, 3.5, 4.5, 3.5, 3.5]}, "legend": null}
          }
        },
        {
          "data": {"name": "radar_b"},
          "mark": {"type": "errorbar", "ticks": {"size": 10, "thickness": 1.3, "color": "#808080"}, "rule": {"color": "#808080", "strokeWidth": 1.3}},
          "encoding": {
            "x": {"field": "t", "type": "quantitative", "axis": null},
            "y": {"field": "lo", "type": "quantitative", "axis": null},
            "y2": {"field": "hi"}
          }
        },
        {
          "data": {"name": "radar_b"},
          "mark": {"type": "line", "color": "#808080", "strokeWidth": 2},
          "encoding": {
            "x": {"field": "t", "type": "quantitative", "axis": null},
            "y": {"field": "z", "type": "quantitative", "axis": null},
            "detail": {"field": "g", "type": "nominal"}
          }
        },
        {
          "data": {"values": [{"t": 14, "z": 29, "lab": "(b)"}]},
          "mark": {"type": "text", "font": "Liberation Serif", "fontSize": 38, "fontWeight": "bold", "color": "black"},
          "encoding": {
            "x": {"field": "t", "type": "quantitative", "axis": null},
            "y": {"field": "z", "type": "quantitative", "axis": null},
            "text": {"field": "lab"}
          }
        }
      ]
    },
    {
      "width": 1100, "height": 495,
      "title": {"text": ["Radar/TMM (W band)", "12 February 2014"], "font": "Liberation Serif", "fontSize": 35, "fontWeight": "bold", "lineHeight": 38, "color": "black", "anchor": "middle", "frame": "group", "offset": -3},
      "resolve": {"axis": {"x": "independent", "y": "independent"}},
      "layer": [
        {
          "data": {"name": "radar_c"},
          "mark": {"type": "point", "filled": false, "strokeWidth": 3, "opacity": 1, "size": 1700},
          "encoding": {
            "x": {"field": "t", "type": "quantitative", "scale": {"domain": [0, 296], "nice": false, "zero": false},
              "axis": {"orient": "top", "values": [0,12,24,36,48,60,72,84,96,108,120,132,144,156,168,180,192,204,216,228,240,252,264,276,288], "labels": false, "grid": false, "tickSize": -8, "domain": true, "zindex": 1, "title": null}},
            "y": {"field": "z", "type": "quantitative", "scale": {"domain": [-25, 35], "nice": false, "zero": false},
              "axis": {"orient": "right", "values": [-24,-22,-20,-18,-16,-14,-12,-10,-8,-6,-4,-2,0,2,4,6,8,10,12,14,16,18,20,22,24,26,28,30,32,34], "labels": false, "grid": false, "tickSize": -8, "domain": true, "zindex": 1, "title": null}},
            "color": {"field": "s", "type": "nominal",
              "scale": {"domain": ["LR", "MR", "r02", "r04", "r06", "r08", "r1"], "range": ["#000000", "#000000", "#ff0000", "#ff9900", "#00ff00", "#ff00ff", "#0000ff"]},
              "legend": {"orient": "none", "legendX": 1113, "legendY": 103, "title": null,
                "labelExpr": "datum.value === 'LR' ? 'Radar data (LR) [91.67 %]' : datum.value === 'MR' ? 'Radar data (MR) [8.33 %]' : datum.value === 'r02' ? 'TMM, rₛ=0.2' : datum.value === 'r04' ? 'TMM, rₛ=0.4' : datum.value === 'r06' ? 'TMM, rₛ=0.6' : datum.value === 'r08' ? 'TMM, rₛ=0.8' : 'TMM, rₛ=1'",
                "symbolSize": 1700, "symbolStrokeWidth": 3, "symbolOpacity": 1, "rowPadding": 5, "padding": 4, "labelOffset": 6, "labelFont": "Liberation Serif", "labelFontSize": 27, "labelColor": "black", "labelLimit": 600,
                "strokeColor": "#000000", "fillColor": "white"}},
            "shape": {"field": "s", "type": "nominal",
              "scale": {"domain": ["LR", "MR", "r02", "r04", "r06", "r08", "r1"], "range": ["M0,-0.49L0.58,0.49L-0.58,0.49Z", "M0.53,0A0.53,0.53,0,1,1,-0.53,0A0.53,0.53,0,1,1,0.53,0Z", "M-1,0L1,0", "M-1,0L1,0", "M-1,0L1,0", "M-1,0L1,0", "M-1,0L1,0"]},
              "legend": {"orient": "none", "legendX": 1113, "legendY": 103, "title": null,
                "labelExpr": "datum.value === 'LR' ? 'Radar data (LR) [91.67 %]' : datum.value === 'MR' ? 'Radar data (MR) [8.33 %]' : datum.value === 'r02' ? 'TMM, rₛ=0.2' : datum.value === 'r04' ? 'TMM, rₛ=0.4' : datum.value === 'r06' ? 'TMM, rₛ=0.6' : datum.value === 'r08' ? 'TMM, rₛ=0.8' : 'TMM, rₛ=1'",
                "symbolSize": 1700, "symbolStrokeWidth": 3, "symbolOpacity": 1, "rowPadding": 5, "padding": 4, "labelOffset": 6, "labelFont": "Liberation Serif", "labelFontSize": 27, "labelColor": "black", "labelLimit": 600,
                "strokeColor": "#000000", "fillColor": "white"}}
          }
        },
        {
          "data": {"name": "tmm_c"},
          "transform": [{"fold": ["r02", "r04", "r06", "r08", "r1"], "as": ["s", "z"]}],
          "mark": {"type": "line"},
          "encoding": {
            "x": {"field": "t", "type": "quantitative",
              "axis": {"orient": "bottom", "values": [0,12,24,36,48,60,72,84,96,108,120,132,144,156,168,180,192,204,216,228,240,252,264,276,288],
                "labelExpr": "datum.value % 60 === 0 ? '0' + (4 + datum.value / 60) + ':00' : ''",
                "labelOffset": 26, "labelPadding": 20, "tickSize": -8, "domain": true, "zindex": 1,
                "grid": true, "gridWidth": 2,
                "gridColor": {"condition": {"test": "datum.value % 60 === 0", "value": "#e2e2e2"}, "value": "#cdcdcd"},
                "gridDash": {"condition": {"test": "datum.value % 60 === 0", "value": []}, "value": [3, 3]},
                "gridOpacity": {"condition": {"test": "datum.value === 0", "value": 0}, "value": 1},
                "title": "Time, UTC", "titlePadding": 8}},
            "y": {"field": "z", "type": "quantitative",
              "axis": {"orient": "left", "values": [-24,-22,-20,-18,-16,-14,-12,-10,-8,-6,-4,-2,0,2,4,6,8,10,12,14,16,18,20,22,24,26,28,30,32,34],
                "labelExpr": "datum.value % 10 === 0 ? '' + datum.value : ''",
                "labelPadding": 15, "tickSize": -8, "domain": true, "zindex": 1,
                "grid": true, "gridWidth": 2,
                "gridColor": {"condition": {"test": "datum.value % 10 === 0", "value": "#e2e2e2"}, "value": "#cdcdcd"},
                "gridDash": {"condition": {"test": "datum.value % 10 === 0", "value": []}, "value": [3, 3]},
                "title": "Zₑ, dBZ", "titlePadding": 20}},
            "color": {"field": "s", "type": "nominal"},
            "strokeWidth": {"field": "s", "type": "nominal", "scale": {"domain": ["r02", "r04", "r06", "r08", "r1"], "range": [3.5, 3.5, 4.5, 3.5, 3.5]}, "legend": null}
          }
        },
        {
          "data": {"name": "radar_c"},
          "mark": {"type": "errorbar", "ticks": {"size": 10, "thickness": 1.3, "color": "#808080"}, "rule": {"color": "#808080", "strokeWidth": 1.3}},
          "encoding": {
            "x": {"field": "t", "type": "quantitative", "axis": null},
            "y": {"field": "lo", "type": "quantitative", "axis": null},
            "y2": {"field": "hi"}
          }
        },
        {
          "data": {"name": "radar_c"},
          "mark": {"type": "line", "color": "#808080", "strokeWidth": 2},
          "encoding": {
            "x": {"field": "t", "type": "quantitative", "axis": null},
            "y": {"field": "z", "type": "quantitative", "axis": null},
            "detail": {"field": "g", "type": "nominal"}
          }
        },
        {
          "data": {"values": [{"t": 14, "z": 29, "lab": "(c)"}]},
          "mark": {"type": "text", "font": "Liberation Serif", "fontSize": 38, "fontWeight": "bold", "color": "black"},
          "encoding": {
            "x": {"field": "t", "type": "quantitative", "axis": null},
            "y": {"field": "z", "type": "quantitative", "axis": null},
            "text": {"field": "lab"}
          }
        }
      ]
    }
  ]
}
